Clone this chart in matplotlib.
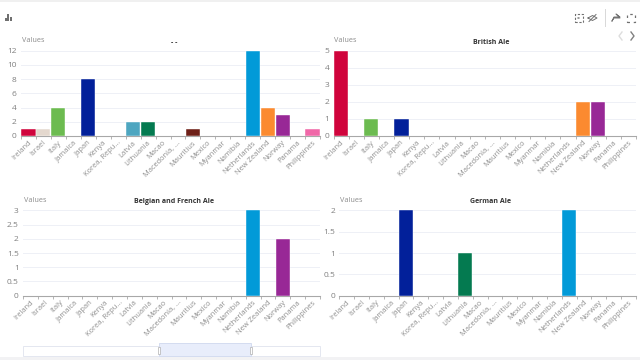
import matplotlib
matplotlib.use("Agg")
import matplotlib.pyplot as plt
from matplotlib.lines import Line2D
from matplotlib.patches import Rectangle, Circle

plt.rcParams['font.family'] = ['Open Sans', 'DejaVu Sans']

W = 640
H = 360

countries = ["Ireland", "Israel", "Italy", "Jamaica", "Japan", "Kenya", "Korea, Repu...", "Latvia",
             "Lithuania", "Macao", "Macedonia, ...", "Mauritius", "Mexico", "Myanmar", "Namibia",
             "Netherlands", "New Zealand", "Norway", "Panama", "Philippines"]
bar_colors = ["#d0043c", "#e4d8ce", "#6cbb50", "#c8c8c8", "#02209a", "#c8c8c8", "#c8c8c8", "#4ea6c0",
              "#047a50", "#c8c8c8", "#c8c8c8", "#6e2018", "#c8c8c8", "#c8c8c8", "#c8c8c8",
              "#029ad8", "#fb8a30", "#982896", "#c8c8c8", "#f068a8"]

all_beers = [1, 1, 4, 0, 8, 0, 0, 2, 2, 0, 0, 1, 0, 0, 0, 12, 4, 3, 0, 1]
british = [5, 0, 1, 0, 1, 0, 0, 0, 0, 0, 0, 0, 0, 0, 0, 0, 2, 2, 0, 0]
belgian = [0, 0, 0, 0, 0, 0, 0, 0, 0, 0, 0, 0, 0, 0, 0, 3, 0, 2, 0, 0]
german = [0, 0, 0, 0, 2, 0, 0, 0, 1, 0, 0, 0, 0, 0, 0, 2, 0, 0, 0, 0]

ticks_a = [0, 2, 4, 6, 8, 10, 12]
ticks_b = [0, 1, 2, 3, 4, 5]
ticks_c = [0, 0.5, 1, 1.5, 2, 2.5, 3]
ticks_d = [0, 0.5, 1, 1.5, 2]


def panel(fig, box, values, yticks, title, title_x):
    x0, x1, top, bottom = box
    ax = fig.add_axes([x0 / W, 1 - bottom / H, (x1 - x0) / W, (bottom - top) / H])
    ax.patch.set_alpha(0)
    ax.bar(range(len(values)), values, width=0.94, color=bar_colors, edgecolor="white",
           linewidth=0.3, zorder=3)
    ax.set_xlim(-0.5, len(values) - 0.5)
    ax.set_ylim(yticks[0], yticks[-1])
    ax.set_yticks(yticks)
    ax.set_yticklabels(["%g" % t for t in yticks], fontsize=6, color="#808080")
    ax.set_xticks([i - 0.5 for i in range(len(values) + 1)])
    ax.set_xticklabels([""] * (len(values) + 1))
    ax.tick_params(axis="y", length=0, pad=3)
    ax.tick_params(axis="x", length=2, width=0.6, color="#a8a8a8")
    ax.grid(axis="y", color="#eef0f6", linewidth=0.7, zorder=0)
    for name in ["top", "right", "left"]:
        ax.spines[name].set_visible(False)
    ax.spines["bottom"].set_color("#a8a8a8")
    ax.spines["bottom"].set_linewidth(0.8)
    for i, name in enumerate(countries):
        ax.annotate(name, (i, 0), xytext=(-0.5, -2.4), textcoords="offset points", rotation=45,
                    ha="right", va="top", rotation_mode="anchor", fontsize=5.4, color="#8f8f8f",
                    annotation_clip=False)
    fig.text((x0 + 0.5) / W, 1 - (top - 10) / H, "Values", fontsize=5.2, color="#8a8a8a",
             ha="left", va="center")
    fig.text(title_x / W, 1 - (top - 8.5) / H, title, fontsize=5.0, color="#333333", weight="bold",
             ha="center", va="center")
    return ax


fig = plt.figure(figsize=(6.4, 3.6), dpi=100)

panel(fig, (21, 320, 50.7, 136), all_beers, ticks_a, "- -", 174)
panel(fig, (333.5, 636, 50.7, 136), british, ticks_b, "British Ale", 491)
panel(fig, (23, 320, 210.3, 295.7), belgian, ticks_c, "Belgian and French Ale", 174)
panel(fig, (339.3, 636, 210.3, 295.7), german, ticks_d, "German Ale", 491)

# page strips at the very top and bottom
fig.add_artist(Rectangle((0, 1 - 2 / H), 1, 2 / H, color="#f0f0f0", lw=0))
fig.add_artist(Rectangle((0, 0), 1, 3 / H, color="#f2f2f4", lw=0))

# data zoom slider
fig.add_artist(Rectangle((23 / W, 1 - 355.5 / H), 297 / W, 10 / H, fc="white", ec="#e4e7f0", lw=0.7))
fig.add_artist(Rectangle((158.7 / W, 1 - 355.5 / H), 92 / W, 13 / H, fc="#e8edfb", ec="#d4dcf0", lw=0.7))
for x in [158.7, 250.7]:
    fig.add_artist(Rectangle(((x - 1) / W, 1 - 354 / H), 2 / W, 7 / H, fc="white", ec="#b0b0b0", lw=0.5))

# toolbar glyphs
tool = "#707070"
for x, h in zip([4.5, 7, 9.5], [3, 6, 4]):
    fig.add_artist(Rectangle((x / W, 1 - 20.5 / H), 2.2 / W, h / H, color=tool, lw=0))
fig.add_artist(Rectangle((574.5 / W, 1 - 22 / H), 8 / W, 8 / H, fc="none", ec=tool, lw=0.8, ls=(0, (2, 1.5))))
fig.add_artist(Circle((578.5 / W, 1 - 18 / H), 0.002, color=tool, lw=0))
fig.add_artist(Line2D([589 / W, 596 / W], [1 - 21.5 / H, 1 - 14.5 / H], color=tool, lw=0.7))
fig.add_artist(Line2D([588 / W, 592.5 / W, 597 / W, 592.5 / W, 588 / W],
                      [1 - 18 / H, 1 - 15.5 / H, 1 - 18 / H, 1 - 20.5 / H, 1 - 18 / H], color=tool, lw=0.7))
fig.add_artist(Line2D([604.5 / W, 604.5 / W], [1 - 26 / H, 1 - 9 / H], color="#d8d8d8", lw=0.7))
fig.add_artist(Line2D([612 / W, 614 / W, 620 / W, 616 / W, 620 / W, 614 / W, 612 / W],
                      [1 - 21 / H, 1 - 17 / H, 1 - 17 / H, 1 - 14 / H, 1 - 18 / H, 1 - 18 / H, 1 - 21 / H],
                      color=tool, lw=0.7))
fig.add_artist(Rectangle((627 / W, 1 - 22 / H), 8 / W, 8 / H, fc="none", ec=tool, lw=0.9, ls=(0, (2, 3))))
fig.add_artist(Line2D([622 / W, 619 / W, 622 / W], [1 - 32 / H, 1 - 36 / H, 1 - 40 / H], color="#dddddd", lw=1))
fig.add_artist(Line2D([631 / W, 634 / W, 631 / W], [1 - 32 / H, 1 - 36 / H, 1 - 40 / H], color="#808080", lw=1))

fig.savefig("out.png", dpi=100)
